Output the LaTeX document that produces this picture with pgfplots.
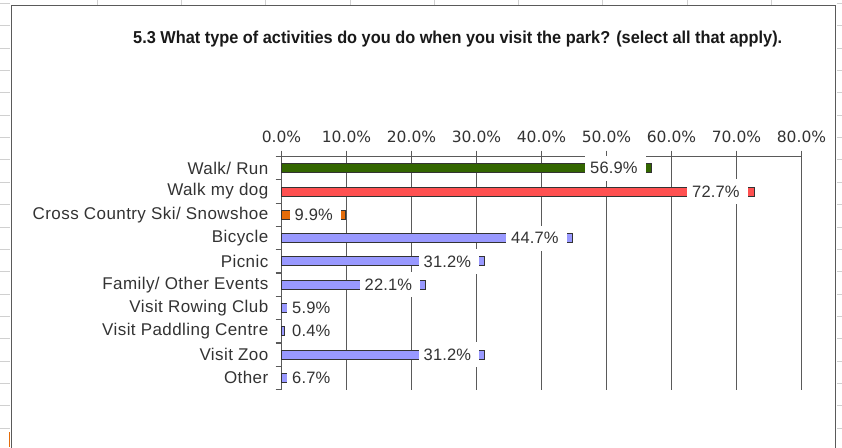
\documentclass[border=0pt]{standalone}
\usepackage{fontspec}
\setmainfont{Liberation Sans}
\newfontfamily\catfont[LetterSpace=2.5]{Liberation Sans}
\newfontfamily\lblfont[LetterSpace=1]{Liberation Sans}
\newfontfamily\tickfont{DejaVu Sans}
\usepackage{pgfplots}
\pgfplotsset{compat=1.18}
\usepackage{pgfplotstable}
\definecolor{cgreen}{HTML}{336600}
\definecolor{cred}{HTML}{FF5050}
\definecolor{corange}{HTML}{E46C0A}
\definecolor{clav}{HTML}{9999FF}
\definecolor{cedge}{HTML}{333333}
\definecolor{cgrid}{HTML}{5A5A5A}
\definecolor{ctext}{HTML}{333333}
\definecolor{csheet}{HTML}{D0D0D0}

% data labels: y position, value, left edge of the white label box (in %)
\pgfplotstableread{
y val lx
9 56.9 46.69
8 72.7 62.38
7 9.9 1.23
6 44.7 34.54
5 31.2 21.08
4 22.1 12.00
3 5.9 0.85
2 0.4 0.85
1 31.2 21.08
0 6.7 0.85
}\labels

\begin{document}
\begin{tikzpicture}
\path[use as bounding box] (0pt,0pt) rectangle (842pt,-447pt);
% spreadsheet background marks
\foreach \yy in {3.4,25.75,...,447} {
  \draw[csheet, line width=0.8pt] (0pt,-\yy pt) -- (10pt,-\yy pt);
  \draw[csheet, line width=0.8pt] (837pt,-\yy pt) -- (842pt,-\yy pt);
}
\foreach \xx in {97,181.3,...,780} {
  \draw[csheet, line width=0.8pt] (\xx pt,0pt) -- (\xx pt,-4.5pt);
}
\draw[white, fill=white] (11.5pt,-5.5pt) rectangle (835.5pt,-460pt);
\draw[cgrid, line width=1.5pt] (11.5pt,-460pt) -- (11.5pt,-5.5pt) -- (835.5pt,-5.5pt) -- (835.5pt,-460pt);
\draw[corange, line width=1.2pt] (9.5pt,-432pt) -- (9.5pt,-447pt);

\node[anchor=base west, inner sep=0pt, text=black!90] at (133pt,-43pt)
  {\resizebox{649pt}{12.5pt}{\bfseries 5.3 What type of activities do you do when you visit the park? (select all that apply).}};

\begin{axis}[
  at={(281.5pt,-156.5pt)}, anchor=north west,
  scale only axis, width=520pt, height=233pt,
  xmin=0, xmax=80, ymin=-0.5, ymax=9.5,
  clip=false,
  axis x line*=top, axis y line*=left,
  axis line style={cgrid, line width=1.2pt, -},
  xtick={0,10,...,80},
  xmajorgrids,
  grid style={cgrid, line width=1.2pt},
  tick align=outside,
  major tick length=6pt, minor tick length=6pt,
  every major x tick/.style={cgrid, line width=1.2pt},
  /pgf/number format/assume math mode=true,
  xticklabel={\pgfmathprintnumber[fixed,fixed zerofill,precision=1]{\tick}\%},
  xticklabel style={font=\tickfont\fontsize{15.5}{17}\selectfont, text=ctext, inner ysep=0pt, anchor=base, yshift=8pt},
  ytick={0,...,9},
  yticklabels={Other, Visit Zoo, Visit Paddling Centre, Visit Rowing Club, Family/ Other Events, Picnic, Bicycle, Cross Country Ski/ Snowshoe, Walk my dog, Walk/ Run},
  yticklabel style={font=\catfont\fontsize{17}{19}\selectfont, text=ctext, anchor=east, inner xsep=0pt, xshift=-7pt},
  every major y tick/.style={draw=none},
  minor ytick={-0.5,0.5,...,9.5},
  every minor y tick/.style={cgrid, line width=1.2pt},
]
\addplot[xbar, bar shift=0pt, bar width=9pt, fill=cgreen, draw=cedge, line width=0.8pt] coordinates {(56.9,9)};
\addplot[xbar, bar shift=0pt, bar width=9pt, fill=cred, draw=cedge, line width=0.8pt] coordinates {(72.7,8)};
\addplot[xbar, bar shift=0pt, bar width=9pt, fill=corange, draw=cedge, line width=0.8pt] coordinates {(9.9,7)};
\addplot[xbar, bar shift=0pt, bar width=9pt, fill=clav, draw=cedge, line width=0.8pt] coordinates {(44.7,6) (31.2,5) (22.1,4) (5.9,3) (0.4,2) (31.2,1) (6.7,0)};
\addplot[only marks, mark=*, mark size=0pt, mark options={draw=none, fill=none},
  point meta=explicit,
  nodes near coords={\hspace*{5pt}\pgfmathprintnumber[fixed,fixed zerofill,precision=1]{\pgfplotspointmeta}\%\hspace*{8pt}},
  nodes near coords style={anchor=west, fill=white, inner xsep=0pt, inner ysep=0pt, minimum height=25pt, text=ctext, font=\lblfont\fontsize{16.5}{18}\selectfont}
] table[x=lx, y=y, meta=val] {\labels};
\end{axis}
\end{tikzpicture}
\end{document}
